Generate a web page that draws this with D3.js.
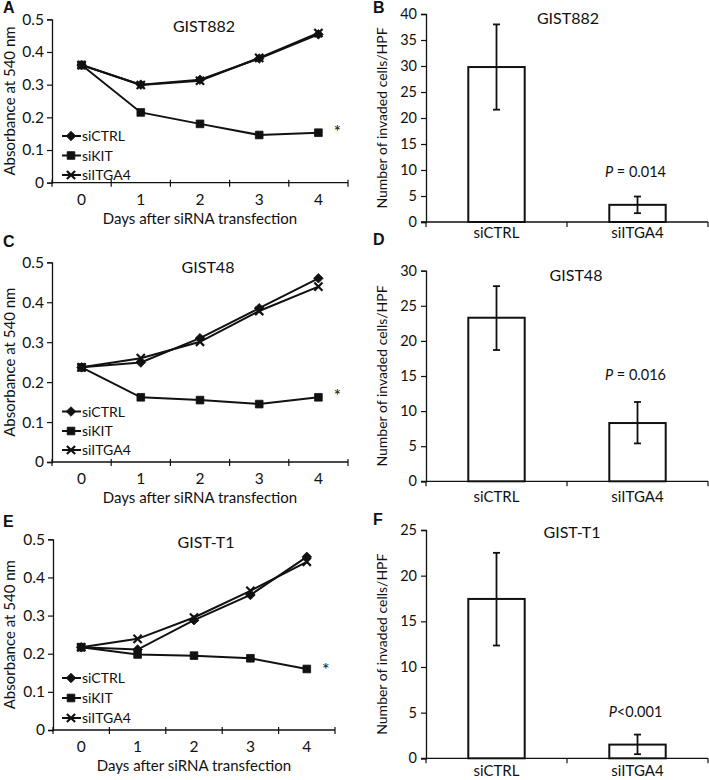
<!DOCTYPE html>
<html><head><meta charset="utf-8">
<script src="https://cdn.jsdelivr.net/npm/d3@7"></script>
<style>body{margin:0;background:#fff} text{font-family:Lato, "Open Sans", sans-serif;fill:#111}</style>
</head><body><svg id="c" width="709" height="780"></svg>
<script>
// ---------- DATA ----------
const days = ["0", "1", "2", "3", "4"];
const seriesNames = ["siCTRL", "siKIT", "siITGA4"];
const lineYTicks = [0, 0.1, 0.2, 0.3, 0.4, 0.5];

const gist882_siCTRL  = [0.360, 0.300, 0.315, 0.380, 0.454];
const gist882_siKIT   = [0.360, 0.215, 0.180, 0.146, 0.153];
const gist882_siITGA4 = [0.360, 0.299, 0.312, 0.382, 0.458];

const gist48_siCTRL  = [0.237, 0.249, 0.310, 0.385, 0.460];
const gist48_siKIT   = [0.237, 0.162, 0.155, 0.145, 0.162];
const gist48_siITGA4 = [0.237, 0.260, 0.301, 0.378, 0.439];

const gistT1_siCTRL  = [0.217, 0.211, 0.288, 0.354, 0.454];
const gistT1_siKIT   = [0.217, 0.198, 0.195, 0.188, 0.160];
const gistT1_siITGA4 = [0.217, 0.239, 0.295, 0.365, 0.441];

const barCategories = ["siCTRL", "siITGA4"];
const gist882_invaded = [29.8, 3.3];
const gist882_errLow  = [21.6, 1.7];
const gist882_errHigh = [38.0, 4.9];
const gist882_ticks   = [0, 5, 10, 15, 20, 25, 30, 35, 40];
const gist882_p = "0.014";

const gist48_invaded = [23.3, 8.3];
const gist48_errLow  = [18.7, 5.4];
const gist48_errHigh = [27.8, 11.3];
const gist48_ticks   = [0, 5, 10, 15, 20, 25, 30];
const gist48_p = "0.016";

const gistT1_invaded = [17.45, 1.5];
const gistT1_errLow  = [12.35, 0.45];
const gistT1_errHigh = [22.5, 2.6];
const gistT1_ticks   = [0, 5, 10, 15, 20, 25];
const gistT1_p = "<0.001";

// ---------- DRAW ----------
const svg = d3.select("#c");
const INK = "#111";

function panelLabel(t, x, y) {
  svg.append("text").attr("x", x).attr("y", y).text(t)
    .style("font-family", "'Liberation Sans', Arial, sans-serif")
    .style("font-weight", "bold").style("font-size", "16px");
}

function markerPath(kind, r) {
  if (kind === 0) return `M0,${-r}L${r},0L0,${r}L${-r},0Z`;
  if (kind === 1) { const s = r * 0.8; return `M${-s},${-s}H${s}V${s}H${-s}Z`; }
  const s = r * 0.85; return `M${-s},${-s}L${s},${s}M${-s},${s}L${s},${-s}`;
}
function drawMarker(g, kind, x, y) {
  const p = g.append("path").attr("d", markerPath(kind, 4.8))
    .attr("transform", `translate(${x},${y})`);
  if (kind === 2) p.attr("fill", "none").attr("stroke", INK).attr("stroke-width", 2.2);
  else p.attr("fill", INK).attr("stroke", INK).attr("stroke-width", 0.8);
}

function linePanel(cfg) {
  const g = svg.append("g");
  const band = d3.scaleBand().domain(days).range([cfg.x0, cfg.x1]);
  const x = d3.scalePoint().domain(days).range([cfg.x0, cfg.x1]).padding(0.5);
  const y = d3.scaleLinear().domain([0, 0.5]).range([cfg.yb, cfg.yt]);

  // y axis
  const ya = g.append("g").attr("transform", `translate(${cfg.x0},0)`)
    .call(d3.axisLeft(y).tickValues(lineYTicks).tickSize(5).tickPadding(3)
      .tickFormat(d => d === 0 ? "0" : d3.format(".1f")(d)));
  ya.select(".domain").attr("stroke", INK).attr("stroke-width", 1.3);
  ya.selectAll(".tick line").attr("stroke", INK).attr("stroke-width", 1.2);
  ya.selectAll(".tick text").style("font-size", "15.5px").style("font-family", "Lato").attr("fill", INK);

  // x axis
  g.append("line").attr("x1", cfg.x0).attr("x2", cfg.x1).attr("y1", y(0)).attr("y2", y(0))
    .attr("stroke", INK).attr("stroke-width", 1.3);
  const edges = days.map(d => band(d)).concat([cfg.x1]);
  g.selectAll(".xt").data(edges).join("line")
    .attr("x1", d => d).attr("x2", d => d).attr("y1", y(0) - 3).attr("y2", y(0) + 4)
    .attr("stroke", INK).attr("stroke-width", 1.2);
  g.selectAll(".xl").data(days).join("text")
    .attr("x", d => x(d)).attr("y", y(0) + 22).attr("text-anchor", "middle")
    .style("font-size", "15.5px").text(d => d);
  g.append("text").attr("x", (cfg.x0 + cfg.x1) / 2).attr("y", y(0) + 41)
    .attr("text-anchor", "middle").style("font-size", "15px").text("Days after siRNA transfection");

  // y title
  g.append("text").attr("transform", `translate(15,${(cfg.yt + cfg.yb) / 2}) rotate(-90)`)
    .attr("text-anchor", "middle").style("font-size", "15px").text("Absorbance at 540 nm");

  // title
  g.append("text").attr("x", cfg.titleX).attr("y", cfg.titleY).attr("text-anchor", "middle")
    .style("font-size", "16px").text(cfg.title);

  // series
  const line = d3.line().x((d, i) => x(days[i])).y(d => y(d));
  const order = [1, 0, 2];
  order.forEach(k => {
    g.append("path").datum(cfg.series[k]).attr("d", line).attr("fill", "none")
      .attr("stroke", INK).attr("stroke-width", 2);
  });
  order.forEach(k => {
    cfg.series[k].forEach((v, i) => drawMarker(g, k, x(days[i]), y(v)));
  });

  // asterisk
  g.append("text").attr("x", x("4") + 19).attr("y", y(cfg.series[1][4]) + cfg.starDy)
    .attr("text-anchor", "middle").style("font-size", "18px").text("*");

  // legend
  seriesNames.forEach((nm, k) => {
    const ly = cfg.legY[k];
    g.append("line").attr("x1", 62).attr("x2", 81).attr("y1", ly).attr("y2", ly)
      .attr("stroke", INK).attr("stroke-width", 2);
    drawMarker(g, k, 71, ly);
    g.append("text").attr("x", 82).attr("y", ly + 5).style("font-size", "14px").text(nm);
  });
}

function barPanel(cfg) {
  const g = svg.append("g");
  const x = d3.scaleBand().domain(barCategories).range([cfg.x0, cfg.x1]).paddingInner(0).paddingOuter(0);
  const ymax = cfg.ticks[cfg.ticks.length - 1];
  const y = d3.scaleLinear().domain([0, ymax]).range([cfg.yb, cfg.yt]);

  const ya = g.append("g").attr("transform", `translate(${cfg.x0},0)`)
    .call(d3.axisLeft(y).tickValues(cfg.ticks).tickSize(5).tickPadding(4));
  ya.select(".domain").attr("stroke", INK).attr("stroke-width", 1.3);
  ya.selectAll(".tick line").attr("stroke", INK).attr("stroke-width", 1.2);
  ya.selectAll(".tick text").style("font-size", "14.5px").style("font-family", "Lato").attr("fill", INK);

  g.append("line").attr("x1", cfg.x0 - 5).attr("x2", cfg.x1).attr("y1", y(0)).attr("y2", y(0))
    .attr("stroke", INK).attr("stroke-width", 1.3);
  const edges = barCategories.map(d => x(d)).concat([cfg.x1]);
  g.selectAll(".xt").data(edges).join("line")
    .attr("x1", d => d).attr("x2", d => d).attr("y1", y(0)).attr("y2", y(0) + 5)
    .attr("stroke", INK).attr("stroke-width", 1.2);
  g.selectAll(".xl").data(barCategories).join("text")
    .attr("x", d => x(d) + x.bandwidth() / 2).attr("y", cfg.catY).attr("text-anchor", "middle")
    .style("font-size", "15px").text(d => d);

  g.append("text").attr("transform", `translate(387,${(cfg.yt + cfg.yb) / 2}) rotate(-90)`)
    .attr("text-anchor", "middle").style("font-size", "14px").text("Number of invaded cells/HPF");

  g.append("text").attr("x", cfg.titleX).attr("y", cfg.titleY).attr("text-anchor", "middle")
    .style("font-size", "16px").text(cfg.title);

  const bw = x.bandwidth() * 0.4;
  barCategories.forEach((c, i) => {
    const cx = x(c) + x.bandwidth() / 2;
    g.append("rect").attr("x", cx - bw / 2).attr("width", bw)
      .attr("y", y(cfg.values[i])).attr("height", y(0) - y(cfg.values[i]))
      .attr("fill", "#fff").attr("stroke", INK).attr("stroke-width", 2);
    g.append("line").attr("x1", cx).attr("x2", cx).attr("y1", y(cfg.lo[i])).attr("y2", y(cfg.hi[i]))
      .attr("stroke", INK).attr("stroke-width", 1.8);
    [cfg.lo[i], cfg.hi[i]].forEach(v => g.append("line")
      .attr("x1", cx - 3.5).attr("x2", cx + 3.5).attr("y1", y(v)).attr("y2", y(v))
      .attr("stroke", INK).attr("stroke-width", 1.8));
  });

  const px = x(barCategories[1]) + x.bandwidth() / 2 - 2;
  const t = g.append("text").attr("x", px).attr("y", y(cfg.pAt)).attr("text-anchor", "middle")
    .style("font-size", "14.5px");
  t.append("tspan").style("font-style", "italic").text("P");
  t.append("tspan").text(cfg.p.startsWith("<") ? cfg.p : " = " + cfg.p);
}

// Panels
panelLabel("A", 3, 13);
linePanel({ x0: 52, x1: 348, yt: 19.3, yb: 182.7, title: "GIST882", titleX: 204, titleY: 32,
  series: [gist882_siCTRL, gist882_siKIT, gist882_siITGA4], starDy: 5, legY: [136, 155.5, 175] });
panelLabel("B", 373, 13);
barPanel({ x0: 426, x1: 708, yt: 14, yb: 222, ticks: gist882_ticks, values: gist882_invaded,
  lo: gist882_errLow, hi: gist882_errHigh, title: "GIST882", titleX: 568, titleY: 24,
  catY: 238, p: gist882_p, pAt: 8.65 });

panelLabel("C", 3, 247);
linePanel({ x0: 52, x1: 348, yt: 262.3, yb: 462, title: "GIST48", titleX: 208, titleY: 273,
  series: [gist48_siCTRL, gist48_siKIT, gist48_siITGA4], starDy: 5, legY: [411.5, 431, 450] });
panelLabel("D", 373, 245);
barPanel({ x0: 426, x1: 708, yt: 270.7, yb: 481.3, ticks: gist48_ticks, values: gist48_invaded,
  lo: gist48_errLow, hi: gist48_errHigh, title: "GIST48", titleX: 576, titleY: 281,
  catY: 502, p: gist48_p, pAt: 14.4 });

panelLabel("E", 3, 527);
linePanel({ x0: 53, x1: 335, yt: 539.3, yb: 730, title: "GIST-T1", titleX: 206, titleY: 548,
  series: [gistT1_siCTRL, gistT1_siKIT, gistT1_siITGA4], starDy: 7.5, legY: [678, 698, 718] });
panelLabel("F", 373, 525);
barPanel({ x0: 426, x1: 708, yt: 530, yb: 758.3, ticks: gistT1_ticks, values: gistT1_invaded,
  lo: gistT1_errLow, hi: gistT1_errHigh, title: "GIST-T1", titleX: 572, titleY: 538,
  catY: 776, p: gistT1_p, pAt: 4.5 });
</script></body></html>
